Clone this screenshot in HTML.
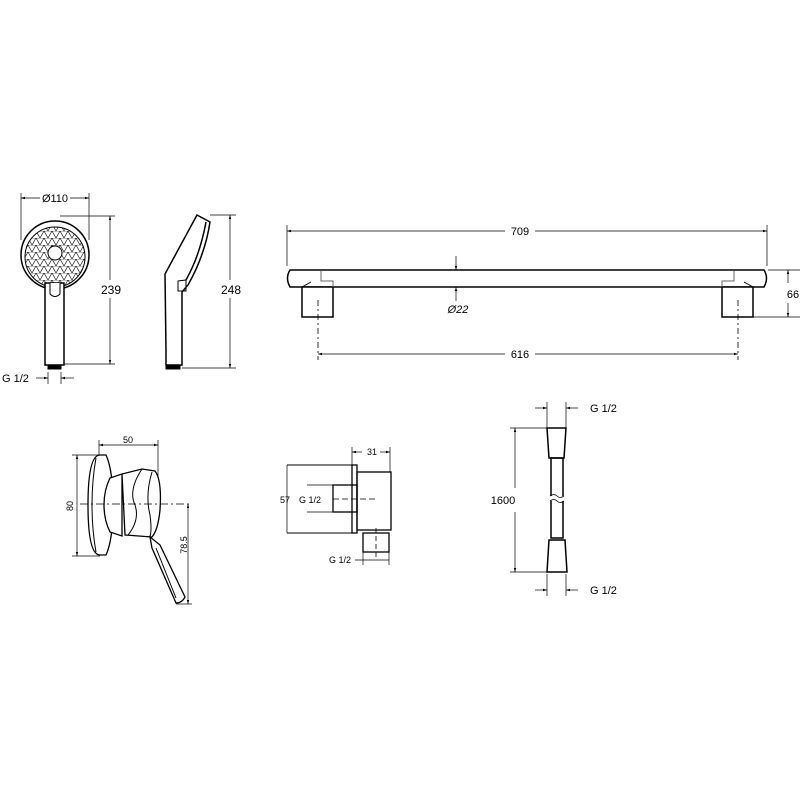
<!DOCTYPE html>
<html><head><meta charset="utf-8"><style>
html,body{margin:0;padding:0;background:#fff;width:800px;height:800px;overflow:hidden}
svg{display:block}
text{font-family:"Liberation Sans",sans-serif;fill:#000}
</style></head><body>
<svg width="800" height="800" viewBox="0 0 800 800" xmlns="http://www.w3.org/2000/svg">
<defs>
<marker id="a" viewBox="0 0 10 10" refX="10" refY="5" markerWidth="6" markerHeight="6" orient="auto-start-reverse"><path d="M0,2 L10,5 L0,8 z" fill="#000"/></marker>
<pattern id="tri" width="8" height="7" patternUnits="userSpaceOnUse"><path d="M0,7 L4,0 L8,7 M0,0 H8" stroke="#000" stroke-width="0.6" fill="none"/></pattern>
</defs>
<g stroke="#000" fill="none" stroke-width="1">
<!-- Hand shower front -->
<line x1="21" y1="193" x2="21" y2="240" stroke-width="0.7"/>
<line x1="89" y1="193" x2="89" y2="240" stroke-width="0.7"/>
<line x1="21" y1="198" x2="40" y2="198" marker-start="url(#a)" stroke-width="0.7"/>
<line x1="70" y1="198" x2="89" y2="198" marker-end="url(#a)" stroke-width="0.7"/>
<circle cx="55" cy="255" r="34" stroke-width="1.5"/>
<circle cx="55" cy="257" r="30" fill="url(#tri)"/>
<circle cx="55" cy="253" r="7" fill="#fff"/>
<rect x="45" y="283" width="19" height="82" fill="#fff" stroke-width="1.5"/>
<path d="M50,283 L50,294 Q55,299 60,294 L60,283" fill="#fff"/>
<rect x="48" y="365" width="13" height="4" fill="#000"/>
<line x1="60" y1="216" x2="115" y2="216" stroke-width="0.7"/>
<line x1="64" y1="364" x2="115" y2="364" stroke-width="0.7"/>
<line x1="110" y1="216" x2="110" y2="280" marker-start="url(#a)" stroke-width="0.7"/>
<line x1="110" y1="298" x2="110" y2="364" marker-end="url(#a)" stroke-width="0.7"/>
<line x1="48" y1="372" x2="48" y2="384" stroke-width="0.7"/>
<line x1="61" y1="372" x2="61" y2="384" stroke-width="0.7"/>
<line x1="36" y1="378" x2="48" y2="378" marker-end="url(#a)" stroke-width="0.7"/>
<line x1="74" y1="378" x2="61" y2="378" marker-end="url(#a)" stroke-width="0.7"/>
<!-- Hand shower side -->
<path d="M197,215 L210,222 Q205,255 188,285 L182,292 L182,365 L166,365 L166,350 L165,274 Z" fill="#fff" stroke-width="1.5"/>
<path d="M206,222 Q200,255 186,280" stroke-width="1.5"/>
<path d="M178,281 L186,280 L186,291 L178,291 Z" stroke-width="1"/>
<rect x="166" y="365" width="14" height="4" fill="#000"/>
<line x1="210" y1="215" x2="236" y2="215" stroke-width="0.7"/>
<line x1="182" y1="368" x2="236" y2="368" stroke-width="0.7"/>
<line x1="230" y1="215" x2="230" y2="280" marker-start="url(#a)" stroke-width="0.7"/>
<line x1="230" y1="298" x2="230" y2="368" marker-end="url(#a)" stroke-width="0.7"/>
<!-- Rail -->
<line x1="287" y1="225" x2="287" y2="266" stroke-width="0.7"/>
<line x1="767" y1="225" x2="767" y2="266" stroke-width="0.7"/>
<line x1="287" y1="231" x2="505" y2="231" marker-start="url(#a)" stroke-width="0.7"/>
<line x1="535" y1="231" x2="767" y2="231" marker-end="url(#a)" stroke-width="0.7"/>
<path d="M290,270 L764,270 Q769,278 764,287 L290,287 Q285,278 290,270 Z" stroke-width="1.5"/>
<rect x="302" y="287" width="31" height="30" stroke-width="1.5" fill="#fff"/>
<rect x="722" y="287" width="31" height="30" stroke-width="1.5" fill="#fff"/>
<line x1="302" y1="287" x2="311" y2="282"/>
<path d="M321,271 L321,281 L333,281 L333,287" stroke="#666"/>
<line x1="753" y1="287" x2="744" y2="282"/>
<path d="M734,271 L734,281 L722,281 L722,287" stroke="#666"/>
<line x1="318" y1="300" x2="318" y2="360" stroke-dasharray="6,3,2,3" stroke-width="0.8"/>
<line x1="738" y1="300" x2="738" y2="360" stroke-dasharray="6,3,2,3" stroke-width="0.8"/>
<line x1="318" y1="354" x2="505" y2="354" marker-start="url(#a)" stroke-width="0.7"/>
<line x1="535" y1="354" x2="738" y2="354" marker-end="url(#a)" stroke-width="0.7"/>
<line x1="456" y1="256" x2="456" y2="270" marker-end="url(#a)" stroke-width="0.7"/>
<line x1="456" y1="301" x2="456" y2="287" marker-end="url(#a)" stroke-width="0.7"/>
<line x1="768" y1="270" x2="800" y2="270" stroke-width="0.7"/>
<line x1="753" y1="317" x2="800" y2="317" stroke-width="0.7"/>
<line x1="788" y1="270" x2="788" y2="283" marker-start="url(#a)" stroke-width="0.7"/>
<line x1="788" y1="303" x2="788" y2="317" marker-end="url(#a)" stroke-width="0.7"/>
<!-- Mixer -->
<line x1="99" y1="440" x2="99" y2="460" stroke-width="0.7"/>
<line x1="158" y1="440" x2="158" y2="510" stroke-width="0.7"/>
<line x1="99" y1="445" x2="158" y2="445" marker-start="url(#a)" marker-end="url(#a)" stroke-width="0.7"/>
<line x1="72" y1="455" x2="100" y2="455" stroke-width="0.7"/>
<line x1="72" y1="556" x2="100" y2="556" stroke-width="0.7"/>
<line x1="77" y1="455" x2="77" y2="556" marker-start="url(#a)" marker-end="url(#a)" stroke-width="0.7"/>
<path d="M100,455 Q88,455 88,505 Q88,555 100,555 L106,555 Q113,540 113,505 Q113,470 106,455 Z" fill="#fff" stroke-width="1.3"/>
<path d="M96,458 Q92,480 92,505 Q92,530 96,552"/>
<path d="M110,478 L122,474 L122,536 L110,532 Q104,520 104,505 Q104,490 110,478 Z" fill="#fff" stroke-width="1.3"/>
<path d="M122,474 L142,469 L155,471 Q162,480 160,510 Q158,530 152,537 L125,535 Z" fill="#fff" stroke-width="1.3"/>
<path d="M142,469 Q128,490 135,505 Q140,520 128,535"/>
<path d="M152,472 Q145,495 150,515 Q152,530 150,537"/>
<path d="M150,537 L160,545 L185,597 Q182,603 176,603 L152,548 Z" fill="#fff" stroke-width="1.3"/>
<path d="M156,548 L176,598"/>
<line x1="80" y1="504" x2="190" y2="504" stroke-dasharray="8,3,2,3" stroke-width="0.8"/>
<line x1="176" y1="604" x2="192" y2="604" stroke-width="0.7"/>
<line x1="188" y1="504" x2="188" y2="604" marker-start="url(#a)" marker-end="url(#a)" stroke-width="0.7"/>
<!-- Wall elbow -->
<line x1="287" y1="465" x2="352" y2="465"/>
<line x1="287" y1="533" x2="352" y2="533"/>
<line x1="287" y1="465" x2="287" y2="533" stroke-width="0.7"/>
<rect x="352" y="465" width="5" height="68" stroke-width="1.3"/>
<rect x="357" y="472" width="34" height="58" stroke-width="1.3"/>
<rect x="333" y="485" width="24" height="27" stroke-width="1.3"/>
<line x1="307" y1="485" x2="333" y2="485" stroke-width="0.7"/>
<line x1="307" y1="512" x2="333" y2="512" stroke-width="0.7"/>
<line x1="333" y1="499" x2="376" y2="499" stroke-dasharray="6,3" stroke-width="0.8"/>
<rect x="363" y="533" width="26" height="19" stroke-width="1.3"/>
<line x1="376" y1="528" x2="376" y2="560" stroke-dasharray="5,3" stroke-width="0.8"/>
<line x1="352" y1="447" x2="352" y2="465" stroke-width="0.7"/>
<line x1="390" y1="447" x2="390" y2="472" stroke-width="0.7"/>
<line x1="352" y1="452" x2="362" y2="452" marker-start="url(#a)" stroke-width="0.7"/>
<line x1="380" y1="452" x2="390" y2="452" marker-end="url(#a)" stroke-width="0.7"/>
<line x1="363" y1="552" x2="363" y2="565" stroke-width="0.7"/>
<line x1="389" y1="552" x2="389" y2="565" stroke-width="0.7"/>
<line x1="355" y1="560" x2="389" y2="560" stroke-width="0.7"/>
<!-- Hose -->
<line x1="547" y1="402" x2="547" y2="428" stroke-width="0.7"/>
<line x1="566" y1="402" x2="566" y2="428" stroke-width="0.7"/>
<line x1="535" y1="408" x2="547" y2="408" marker-end="url(#a)" stroke-width="0.7"/>
<line x1="578" y1="408" x2="566" y2="408" marker-end="url(#a)" stroke-width="0.7"/>
<path d="M547,428 L566,428 L564,458 L549,458 Z" stroke-width="1.5"/>
<rect x="551" y="458" width="12" height="80" stroke-width="1.5"/>
<rect x="549" y="496" width="16" height="5" fill="#fff" stroke="none"/>
<path d="M550,496 Q554,493 557,496 T564,496" stroke-width="0.8"/>
<path d="M550,501 Q554,498 557,501 T564,501" stroke-width="0.8"/>
<path d="M549,540 L565,540 L567,572 L547,572 Z" stroke-width="1.5"/>
<line x1="547" y1="574" x2="547" y2="596" stroke-width="0.7"/>
<line x1="566" y1="574" x2="566" y2="596" stroke-width="0.7"/>
<line x1="535" y1="590" x2="547" y2="590" marker-end="url(#a)" stroke-width="0.7"/>
<line x1="578" y1="590" x2="566" y2="590" marker-end="url(#a)" stroke-width="0.7"/>
<line x1="510" y1="428" x2="547" y2="428" stroke-width="0.7"/>
<line x1="510" y1="572" x2="547" y2="572" stroke-width="0.7"/>
<line x1="515" y1="428" x2="515" y2="488" marker-start="url(#a)" stroke-width="0.7"/>
<line x1="515" y1="512" x2="515" y2="572" marker-end="url(#a)" stroke-width="0.7"/>
</g>
<g font-size="11">
<text x="55" y="202" text-anchor="middle">Ø110</text>
<text x="111" y="294" text-anchor="middle" font-size="12">239</text>
<text x="2" y="382">G 1/2</text>
<text x="231" y="294" text-anchor="middle" font-size="12">248</text>
<text x="520" y="235" text-anchor="middle">709</text>
<text x="458" y="313" text-anchor="middle" font-style="italic">Ø22</text>
<text x="520" y="358" text-anchor="middle">616</text>
<text x="793" y="298" text-anchor="middle">66</text>
<text x="128" y="443" text-anchor="middle" font-size="9">50</text>
<text x="75" y="506" text-anchor="middle" font-size="9" transform="rotate(-90 75 506)" dy="-2">80</text>
<text x="184" y="545" text-anchor="middle" font-size="9" transform="rotate(-90 184 545)" dy="3">78.5</text>
<text x="372" y="455" text-anchor="middle" font-size="9">31</text>
<text x="285" y="503" text-anchor="middle" font-size="9">57</text>
<text x="310" y="503" text-anchor="middle" font-size="9">G 1/2</text>
<text x="340" y="563" text-anchor="middle" font-size="9">G 1/2</text>
<text x="590" y="412">G 1/2</text>
<text x="503" y="504" text-anchor="middle">1600</text>
<text x="590" y="594">G 1/2</text>
</g>
</svg>
</body></html>
